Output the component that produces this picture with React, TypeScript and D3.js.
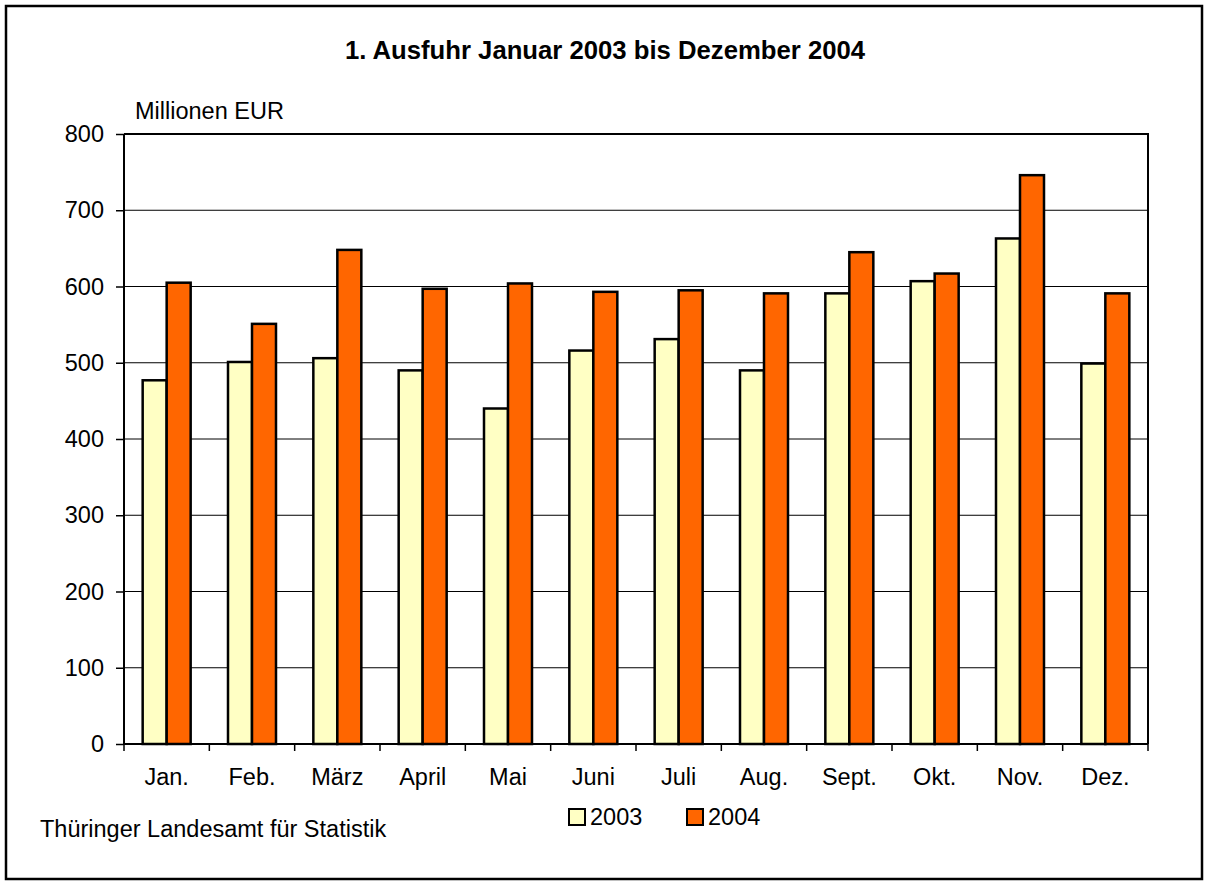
import * as d3 from "d3";
import { useRef, useEffect } from "react";

const months = ["Jan.", "Feb.", "März", "April", "Mai", "Juni", "Juli", "Aug.", "Sept.", "Okt.", "Nov.", "Dez."];
const series = ["2003", "2004"];
const values2003 = [477, 501, 506, 490, 440, 516, 531, 490, 591, 607, 663, 499];
const values2004 = [605, 551, 648, 597, 604, 593, 595, 591, 645, 617, 746, 591];
const yTicks = [0, 100, 200, 300, 400, 500, 600, 700, 800];
const colors = ["#FFFFC4", "#FF6600"];

const W = 1205;
const H = 884;
const FONT = "'Liberation Sans', Arial, sans-serif";
const FS = 23.5;

function App() {
  const ref = useRef<SVGSVGElement>(null);

  useEffect(() => {
    draw();
  }, []);

  const draw = () => {
    const svg = d3.select(ref.current);
    svg.selectAll("*").remove();

    const left = 124;
    const right = 1148;
    const top = 134;
    const bottom = 744;

    // outer frame
    svg
      .append("rect")
      .attr("x", 6)
      .attr("y", 6)
      .attr("width", 1196)
      .attr("height", 873)
      .attr("fill", "white")
      .attr("stroke", "black")
      .attr("stroke-width", 2.5);

    const x0 = d3.scaleBand().domain(months).range([left, right]).paddingInner(0).paddingOuter(0);
    const x1 = d3
      .scaleBand()
      .domain(series)
      .range([0, x0.bandwidth()])
      .paddingInner(0)
      .paddingOuter(0.778);
    const y = d3.scaleLinear().domain([0, 800]).range([bottom, top]);

    // gridlines
    svg
      .append("g")
      .selectAll("line")
      .data(yTicks.filter((d) => d > 0 && d < 800))
      .join("line")
      .attr("x1", left)
      .attr("x2", right)
      .attr("y1", (d) => y(d))
      .attr("y2", (d) => y(d))
      .attr("stroke", "black")
      .attr("stroke-width", 1);

    // bars
    const rows = months.map((m, i) => ({ month: m, vals: [values2003[i], values2004[i]] }));
    const groups = svg
      .append("g")
      .selectAll("g")
      .data(rows)
      .join("g")
      .attr("transform", (d) => `translate(${x0(d.month)},0)`);

    groups
      .selectAll("rect")
      .data((d) => d.vals.map((v, j) => ({ key: series[j], v, j })))
      .join("rect")
      .attr("x", (d) => x1(d.key)!)
      .attr("y", (d) => y(d.v))
      .attr("width", x1.bandwidth())
      .attr("height", (d) => y(0) - y(d.v))
      .attr("fill", (d) => colors[d.j])
      .attr("stroke", "black")
      .attr("stroke-width", 2.5);

    // plot area frame: top and right
    svg
      .append("path")
      .attr("d", `M${left},${top}H${right}V${bottom}`)
      .attr("fill", "none")
      .attr("stroke", "black")
      .attr("stroke-width", 2);

    // y axis
    const yAxis = svg
      .append("g")
      .attr("transform", `translate(${left},0)`)
      .call(d3.axisLeft(y).tickValues(yTicks).tickSize(8).tickPadding(12));
    yAxis.select(".domain").attr("stroke-width", 2).attr("d", `M0,${top}V${bottom}`);
    yAxis.selectAll(".tick line").attr("stroke-width", 1.5);
    yAxis
      .selectAll("text")
      .attr("font-family", FONT)
      .attr("font-size", FS)
      .attr("fill", "black");

    // x axis
    const xAxis = svg
      .append("g")
      .attr("transform", `translate(0,${bottom})`)
      .call(d3.axisBottom(x0).tickSize(0).tickPadding(24));
    xAxis.select(".domain").attr("stroke-width", 2).attr("d", `M${left},0H${right}`);
    xAxis
      .selectAll("text")
      .attr("font-family", FONT)
      .attr("font-size", FS)
      .attr("fill", "black");
    svg
      .append("g")
      .selectAll("line")
      .data([...months.map((m) => x0(m)!), right])
      .join("line")
      .attr("x1", (d) => d)
      .attr("x2", (d) => d)
      .attr("y1", bottom)
      .attr("y2", bottom + 7)
      .attr("stroke", "black")
      .attr("stroke-width", 1.5);

    // title
    svg
      .append("text")
      .attr("x", 605)
      .attr("y", 59)
      .attr("text-anchor", "middle")
      .attr("font-family", FONT)
      .attr("font-weight", "bold")
      .attr("font-size", 25.7)
      .text("1. Ausfuhr Januar 2003 bis Dezember 2004");

    // unit label
    svg
      .append("text")
      .attr("x", 135)
      .attr("y", 119)
      .attr("font-family", FONT)
      .attr("font-size", FS)
      .text("Millionen EUR");

    // legend
    const legendX = [569, 687];
    const legend = svg
      .append("g")
      .selectAll("g")
      .data(series)
      .join("g")
      .attr("transform", (d, i) => `translate(${legendX[i]},809)`);
    legend
      .append("rect")
      .attr("width", 16)
      .attr("height", 16)
      .attr("fill", (d, i) => colors[i])
      .attr("stroke", "black")
      .attr("stroke-width", 2);
    legend
      .append("text")
      .attr("x", 21)
      .attr("y", 16)
      .attr("font-family", FONT)
      .attr("font-size", FS)
      .text((d) => d);

    // source
    svg
      .append("text")
      .attr("x", 40)
      .attr("y", 837)
      .attr("font-family", FONT)
      .attr("font-size", FS)
      .text("Thüringer Landesamt für Statistik");
  };

  return (
    <div className="chart">
      <svg ref={ref} width={W} height={H} style={{ position: "absolute", left: 0, top: 0, background: "white" }}></svg>
    </div>
  );
}

export default App;
